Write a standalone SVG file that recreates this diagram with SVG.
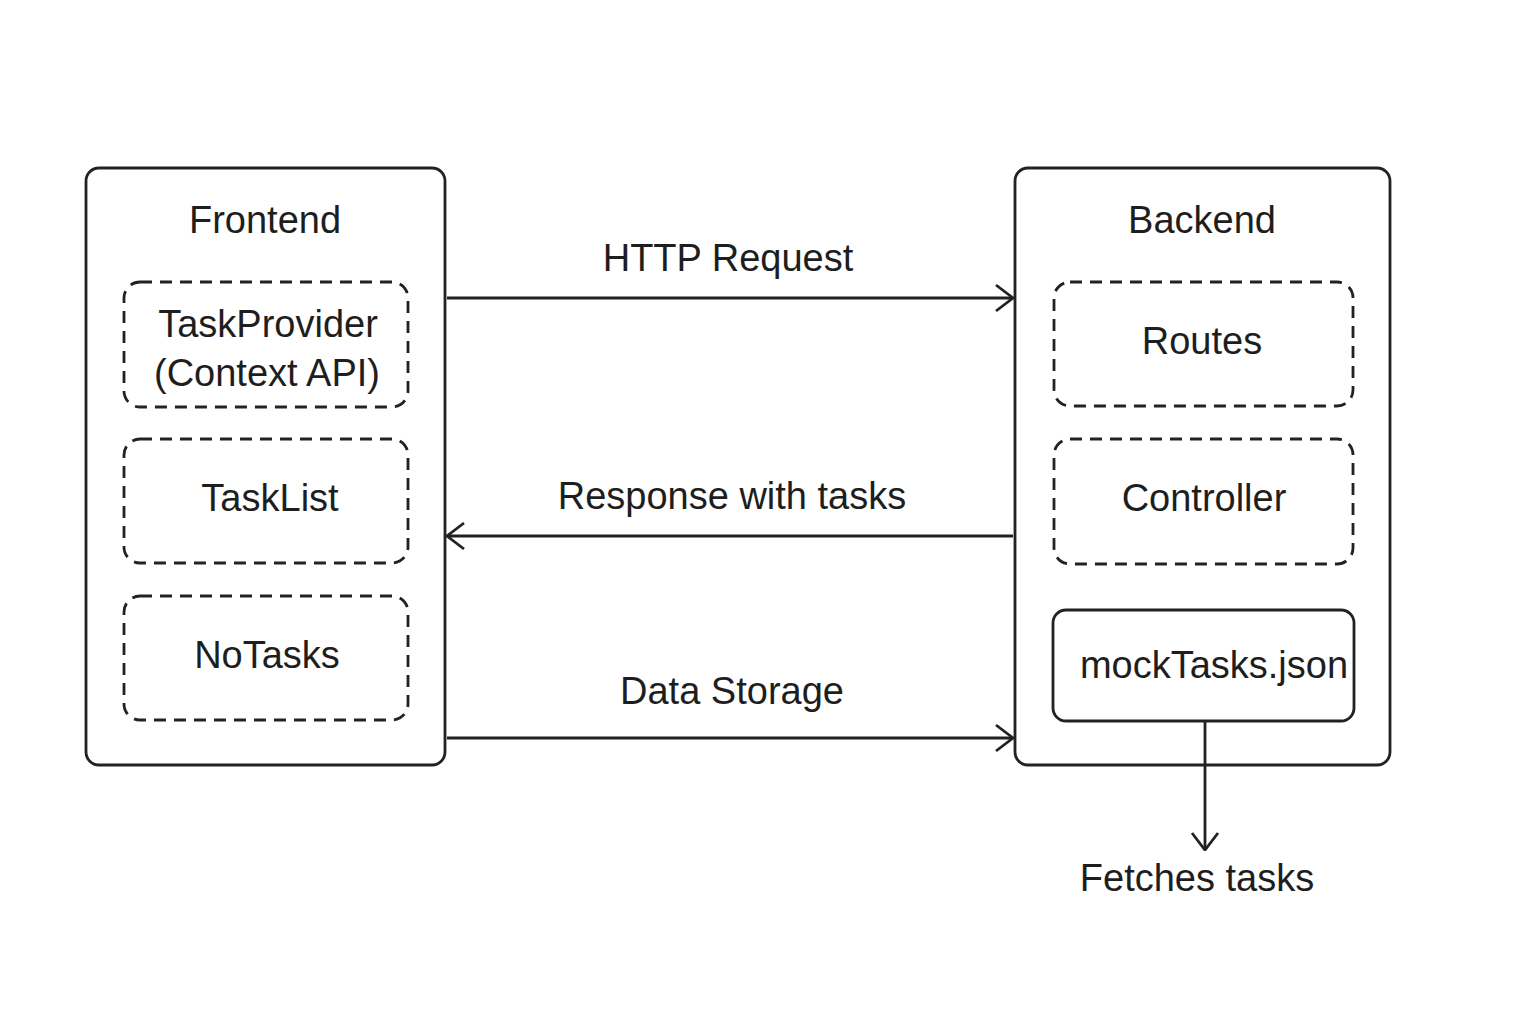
<svg xmlns="http://www.w3.org/2000/svg" width="1536" height="1024" viewBox="0 0 1536 1024">
<style>
.outer{fill:#fff;stroke:#222;stroke-width:2.8}
.dash{fill:none;stroke:#222;stroke-width:2.8;stroke-dasharray:12 8}
.solid{fill:none;stroke:#222;stroke-width:2.8}
.t{font-family:"Liberation Sans",Arial,sans-serif;font-size:38px;fill:#1e1e1e;text-anchor:middle}
.c{stroke:#222;stroke-width:2.8;fill:none}
</style>
<defs>
<marker id="arr" viewBox="0 0 20 30" refX="19" refY="15" markerWidth="20" markerHeight="30" markerUnits="userSpaceOnUse" orient="auto">
<path d="M2,2 L19,15 L2,28" fill="none" stroke="#222" stroke-width="2.8"/>
</marker>
</defs>
<rect width="1536" height="1024" fill="#fff"/>
<g id="frontend">
<rect class="outer" x="86" y="168" width="359" height="597" rx="13"/>
<text class="t" x="265" y="233">Frontend</text>
</g>
<g id="taskprovider">
<rect class="dash" x="124" y="282" width="284" height="125" rx="16"/>
<text class="t" x="268" y="337">TaskProvider</text>
<text class="t" x="267" y="386">(Context API)</text>
</g>
<g id="tasklist">
<rect class="dash" x="124" y="439" width="284" height="124" rx="16"/>
<text class="t" x="270" y="511">TaskList</text>
</g>
<g id="notasks">
<rect class="dash" x="124" y="596" width="284" height="124" rx="16"/>
<text class="t" x="267" y="668">NoTasks</text>
</g>
<g id="backend">
<rect class="outer" x="1015" y="168" width="375" height="597" rx="13"/>
<text class="t" x="1202" y="233">Backend</text>
</g>
<g id="routes">
<rect class="dash" x="1054" y="282" width="299" height="124" rx="16"/>
<text class="t" x="1202" y="354">Routes</text>
</g>
<g id="controller">
<rect class="dash" x="1054" y="439" width="299" height="125" rx="16"/>
<text class="t" x="1204" y="511">Controller</text>
</g>
<g id="mocktasks">
<rect class="solid" x="1053" y="610" width="301" height="111" rx="13"/>
<text class="t" x="1214" y="678">mockTasks.json</text>
</g>
<g id="connectors">
<line class="c" x1="447" y1="298" x2="1013" y2="298" marker-end="url(#arr)"/>
<line class="c" x1="1013" y1="536" x2="447" y2="536" marker-end="url(#arr)"/>
<line class="c" x1="447" y1="738" x2="1013" y2="738" marker-end="url(#arr)"/>
<line class="c" x1="1205" y1="721" x2="1205" y2="850" marker-end="url(#arr)"/>
<text class="t" x="728" y="271">HTTP Request</text>
<text class="t" x="732" y="509">Response with tasks</text>
<text class="t" x="732" y="704">Data Storage</text>
<text class="t" x="1197" y="891">Fetches tasks</text>
</g>
</svg>
